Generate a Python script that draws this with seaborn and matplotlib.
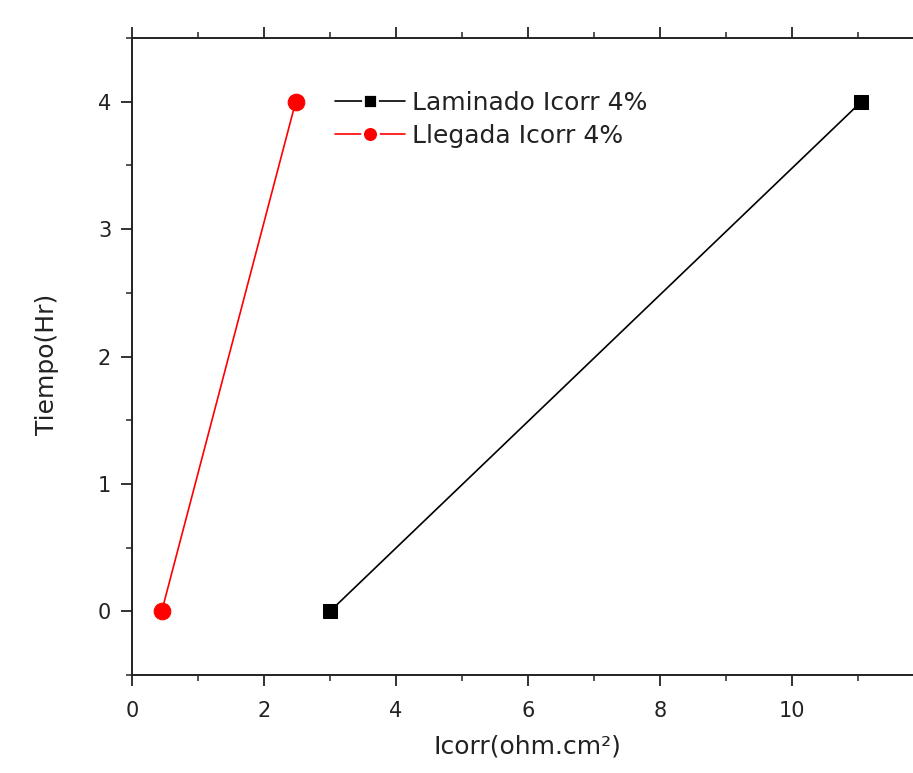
import matplotlib
matplotlib.use("Agg")
import matplotlib.pyplot as plt
import seaborn as sns
import pandas as pd
from matplotlib.ticker import MultipleLocator

sns.set_theme(style="white")
plt.rcParams['font.family'] = ['DejaVu Sans']

laminado_x = [3.0, 11.05]
laminado_y = [0, 4]
llegada_x = [0.45, 2.48]
llegada_y = [0, 4]
labels = ["Laminado Icorr 4%", "Llegada Icorr 4%"]

fig = plt.figure(figsize=(9.13, 7.73), dpi=100)
ax = fig.add_axes([0.1446, 0.1268, 0.9036, 0.824])

df1 = pd.DataFrame({"x": laminado_x, "y": laminado_y})
df2 = pd.DataFrame({"x": llegada_x, "y": llegada_y})
sns.lineplot(data=df1, x="x", y="y", ax=ax, color="black", marker="s", markersize=10,
             markeredgecolor="black", linewidth=1.2, label=labels[0], sort=False)
sns.lineplot(data=df2, x="x", y="y", ax=ax, color="#ff0000", marker="o", markersize=12,
             markeredgecolor="#ff0000", linewidth=1.2, label=labels[1], sort=False)

ax.set_xlim(0, 12.5)
ax.set_ylim(-0.5, 4.5)
ax.xaxis.set_major_locator(MultipleLocator(2))
ax.xaxis.set_minor_locator(MultipleLocator(1))
ax.yaxis.set_major_locator(MultipleLocator(1))
ax.yaxis.set_minor_locator(MultipleLocator(0.5))
ax.tick_params(axis='both', which='major', direction='out', length=8, width=1.3,
               labelsize=15, colors='#222222', top=True, bottom=True, left=True, right=True,
               pad=7)
ax.tick_params(axis='x', which='major', pad=11)
ax.tick_params(axis='both', which='minor', direction='out', length=4.5, width=1.1,
               top=True, bottom=True, left=True, right=True)
ax.tick_params(labelcolor='#222222')
for s in ax.spines.values():
    s.set_color('#222222')
    s.set_linewidth(1.4)

ax.set_xlabel("Icorr(ohm.cm²)", fontsize=18, color='#222222')
ax.set_ylabel("Tiempo(Hr)", fontsize=18, color='#222222')
ax.xaxis.set_label_coords(0.479, -0.094)
ax.yaxis.set_label_coords(-0.088, 0.487)

leg = ax.legend(loc='upper left', bbox_to_anchor=(0.246, 0.917), frameon=False, fontsize=18,
                handlelength=2.8, handletextpad=0.3, labelspacing=0.35,
                borderaxespad=0, borderpad=0, markerscale=0.95)
for h in leg.legend_handles:
    h.set_markeredgecolor('white')
    h.set_markeredgewidth(2.0)
for t in leg.get_texts():
    t.set_color('#222222')

fig.savefig("out.png", dpi=100)
